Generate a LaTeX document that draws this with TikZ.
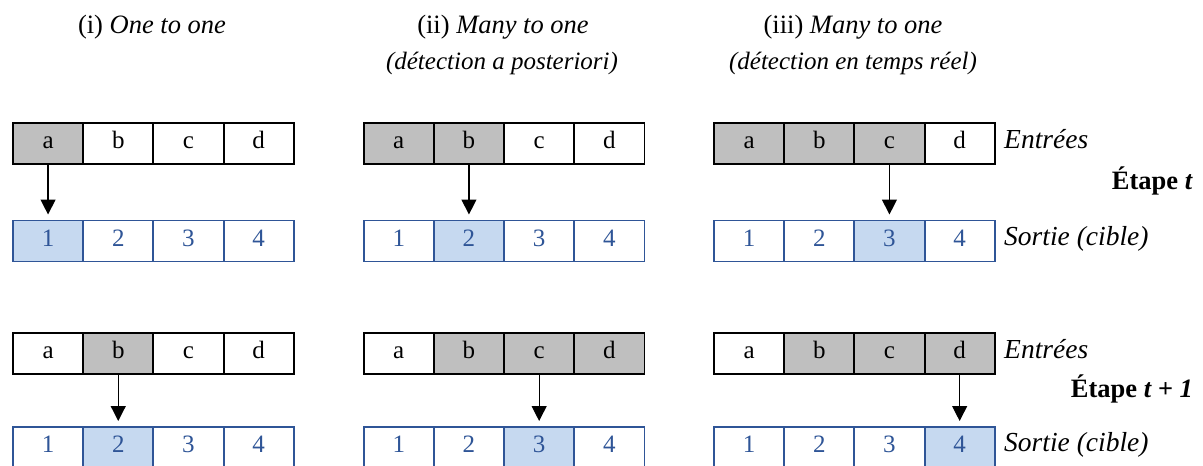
\documentclass[tikz,border=0pt]{standalone}
\usepackage{fontspec}
\setmainfont{Liberation Serif}
\usetikzlibrary{arrows.meta}
\definecolor{gfill}{HTML}{BFBFBF}
\definecolor{bline}{HTML}{2F5597}
\definecolor{bfill}{HTML}{C6D9F0}
\definecolor{btext}{HTML}{2F5597}
\newcommand{\seqrow}[7]{%
  % #1 name, #2 x0, #3 yin, #4 yout, #5 gray start, #6 gray end, #7 target
  \foreach \i/\l in {1/a,2/b,3/c,4/d}{%
    \pgfmathtruncatemacro\isgray{(\i>=#5)&&(\i<=#6)}%
    \ifnum\isgray=1 \def\fc{gfill}\else\def\fc{white}\fi
    \pgfmathtruncatemacro\ishit{\i==#7}%
    \ifnum\ishit=1 \def\fo{bfill}\else\def\fo{white}\fi
    \node[incell, fill=\fc] (in#1-\i) at ({#2+(\i-1)*70.2}, #3) {\l};
    \node[outcell, fill=\fo] (out#1-\i) at ({#2+(\i-1)*70.2}, #4) {\i};
  }
  \draw[arr] (in#1-#7.south) -- (out#1-#7.north);
}
\begin{document}
\begin{tikzpicture}[x=1pt,y=-1pt,
  cellbase/.style={line width=1.9pt, minimum width=70.2pt, minimum height=41pt,
    inner sep=0pt, anchor=north west, text height=16pt, text depth=5pt,
    font=\fontsize{25}{29}\selectfont},
  incell/.style={cellbase, draw=black},
  outcell/.style={cellbase, draw=bline, text=btext},
  arr/.style={-{Triangle[width=15pt,length=15pt]}, line width=1.2pt, shorten >=5pt},
  lab/.style={inner sep=0pt, anchor=west, text height=16pt, text depth=5pt,
    font=\fontsize{27.5}{31}\selectfont\itshape},
  ttl/.style={inner sep=0pt, font=\fontsize{26.5}{30}\selectfont},
  subttl/.style={inner sep=0pt, font=\fontsize{25}{29}\selectfont\itshape},
  etape/.style={inner sep=0pt, anchor=east, font=\fontsize{26.5}{30}\selectfont\bfseries}
]
\useasboundingbox (0,0) rectangle (1203,466);

\node[ttl] (t1) at (152,27) {(i) \textit{One to one}};
\node[ttl] (t2) at (503,27) {(ii) \textit{Many to one}};
\node[subttl] (s2) at (502,63) {(détection a posteriori)};
\node[ttl] (t3) at (853,27) {(iii) \textit{Many to one}};
\node[subttl] (s3) at (853,63) {(détection en temps réel)};

\seqrow{A}{12}{122}{219.5}{1}{1}{1}
\seqrow{B}{362.7}{122}{219.5}{1}{2}{2}
\seqrow{C}{713}{122}{219.5}{1}{3}{3}
\seqrow{D}{12}{332}{426}{2}{2}{2}
\seqrow{E}{362.7}{332}{426}{2}{4}{3}
\seqrow{F}{713}{332}{426}{2}{4}{4}

\node[lab] (e1) at (1004,142.5) {Entrées};
\node[lab] (o1) at (1004,240) {Sortie (cible)};
\node[etape] (st1) at (1193,181) {Étape \textit{t}};
\node[lab] (e2) at (1004,352.5) {Entrées};
\node[lab] (o2) at (1004,446) {Sortie (cible)};
\node[etape] (st2) at (1193,389) {Étape \textit{t + 1}};
\end{tikzpicture}
\end{document}
